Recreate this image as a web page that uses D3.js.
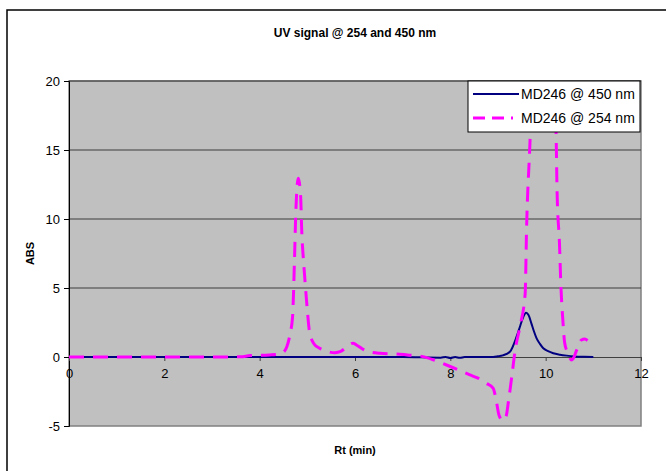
<!DOCTYPE html>
<html>
<head>
<meta charset="utf-8">
<script src="https://cdn.jsdelivr.net/npm/d3@7"></script>
<style>
  html, body { margin: 0; padding: 0; background: #fff; }
  svg { display: block; font-family: "Liberation Sans", Arial, sans-serif; }
</style>
</head>
<body>
<svg id="chart" width="666" height="471"></svg>
<script>
// Retention time (min) and absorbance for the 450 nm trace
const rt450 = [0, 1, 2, 3, 4, 5, 6, 7, 7.8, 7.9, 8.0, 8.1, 8.2, 8.3, 8.5, 8.9, 9.0, 9.1, 9.25, 9.39, 9.47, 9.53, 9.59, 9.64, 9.70, 9.75, 9.81, 9.88, 9.95, 10.05, 10.16, 10.3, 10.44, 10.6, 10.8, 11.0];
const abs450 = [0, 0, 0, 0, 0, 0, 0, 0, -0.05, 0, -0.08, 0, -0.06, 0, 0, 0, 0.05, 0.12, 0.38, 1.47, 2.3, 2.9, 3.2, 3.05, 2.44, 1.9, 1.35, 0.95, 0.63, 0.42, 0.27, 0.17, 0.1, 0.04, 0.01, 0];

// Retention time (min) and absorbance for the 254 nm trace
const rt254 = [0, 1, 2, 3, 3.6, 3.8, 4.0, 4.2, 4.4, 4.5, 4.57, 4.64, 4.69, 4.71, 4.73, 4.76, 4.81, 4.86, 4.88, 4.93, 4.96, 5.0, 5.04, 5.13, 5.25, 5.37, 5.58, 5.7, 5.79, 5.88, 5.96, 6.03, 6.15, 6.28, 6.52, 6.87, 7.1, 7.36, 7.64, 7.92, 8.17, 8.41, 8.62, 8.75, 8.9, 8.96, 9.02, 9.1, 9.17, 9.22, 9.29, 9.36, 9.46, 9.57, 9.60, 9.67, 9.72, 9.85, 10.0, 10.12, 10.18, 10.22, 10.24, 10.29, 10.32, 10.36, 10.40, 10.47, 10.54, 10.58, 10.65, 10.75, 10.82, 10.88];
const abs254 = [0, 0, 0, 0, 0.02, 0.1, 0.12, 0.15, 0.2, 0.35, 0.75, 1.7, 2.9, 4.6, 7.0, 10.65, 12.95, 11.6, 9.4, 6.5, 5.1, 3.4, 1.96, 1.0, 0.65, 0.46, 0.31, 0.4, 0.63, 0.9, 1.0, 0.87, 0.6, 0.39, 0.27, 0.22, 0.15, 0.07, -0.2, -0.58, -0.94, -1.3, -1.6, -1.9, -2.27, -3.1, -4.2, -4.6, -4.3, -3.2, -1.4, 0.5, 2.2, 4.6, 9.4, 15.5, 20.5, 24, 24.5, 22, 20, 16.0, 11.9, 8.2, 5.1, 2.7, 1.0, 0.27, -0.22, -0.1, 0.5, 1.23, 1.3, 1.2];

// Axis ticks and labels
const xTicks = [0, 2, 4, 6, 8, 10, 12];
const yTicks = [-5, 0, 5, 10, 15, 20];
const titleText = "UV signal @ 254 and 450 nm";
const xLabel = "Rt (min)";
const yLabel = "ABS";
const seriesNames = ["MD246 @ 450 nm", "MD246 @ 254 nm"];

const svg = d3.select("#chart");
const plot = { left: 69, right: 641, top: 81, bottom: 426 };

const x = d3.scaleLinear().domain([0, 12]).range([plot.left, plot.right]);
const y = d3.scaleLinear().domain([-5, 20]).range([plot.bottom, plot.top]);

// Plain hyphen-minus labels
const fmt = d => String(d);

// Outer chart frame (runs off the right and bottom edges)
svg.append("rect")
  .attr("x", 7).attr("y", 10)
  .attr("width", 720).attr("height", 520)
  .attr("fill", "#fff").attr("stroke", "#000").attr("stroke-width", 1.5);

// Title
svg.append("text")
  .attr("x", (plot.left + plot.right) / 2).attr("y", 37)
  .attr("text-anchor", "middle")
  .attr("font-size", 12).attr("font-weight", "bold")
  .text(titleText);

// Plot area background
svg.append("rect")
  .attr("x", plot.left).attr("y", plot.top)
  .attr("width", plot.right - plot.left).attr("height", plot.bottom - plot.top)
  .attr("fill", "#c0c0c0").attr("stroke", "#808080").attr("stroke-width", 1.5);

// Horizontal gridlines
svg.append("g")
  .selectAll("line")
  .data(yTicks.filter(d => d > 0))
  .join("line")
  .attr("x1", plot.left).attr("x2", plot.right)
  .attr("y1", d => y(d)).attr("y2", d => y(d))
  .attr("stroke", "#3c3c3c").attr("stroke-width", 1.2);

// Y axis
const yAxis = svg.append("g")
  .attr("transform", `translate(${plot.left},0)`)
  .call(d3.axisLeft(y).tickValues(yTicks).tickSize(5).tickPadding(4).tickFormat(fmt));
yAxis.select(".domain").attr("stroke", "#000");
yAxis.selectAll(".tick line").attr("stroke", "#000");
yAxis.selectAll("text")
  .attr("font-size", 13).attr("font-family", "Liberation Sans, Arial, sans-serif").attr("fill", "#000");

// X axis drawn at zero
const xAxis = svg.append("g")
  .attr("transform", `translate(0,${y(0)})`)
  .call(d3.axisBottom(x).tickValues(xTicks).tickSize(4).tickPadding(8).tickFormat(fmt));
xAxis.select(".domain").attr("stroke", "#404040");
xAxis.selectAll(".tick line").attr("stroke", "#404040");
xAxis.selectAll("text")
  .attr("font-size", 13).attr("font-family", "Liberation Sans, Arial, sans-serif").attr("fill", "#000");

// Axis titles
svg.append("text")
  .attr("x", (plot.left + plot.right) / 2).attr("y", 454)
  .attr("text-anchor", "middle")
  .attr("font-size", 11).attr("font-weight", "bold")
  .text(xLabel);
svg.append("text")
  .attr("transform", `translate(34,${(plot.top + plot.bottom) / 2}) rotate(-90)`)
  .attr("text-anchor", "middle")
  .attr("font-size", 11).attr("font-weight", "bold")
  .text(yLabel);

// Clip traces to the plot area
svg.append("clipPath").attr("id", "plotClip")
  .append("rect")
  .attr("x", plot.left).attr("y", plot.top)
  .attr("width", plot.right - plot.left).attr("height", plot.bottom - plot.top);

const line = d3.line()
  .x(d => x(d[0]))
  .y(d => y(d[1]))
  .curve(d3.curveMonotoneX);

const traces = svg.append("g").attr("clip-path", "url(#plotClip)");

traces.append("path")
  .datum(d3.zip(rt450, abs450))
  .attr("d", line)
  .attr("fill", "none")
  .attr("stroke", "#000080")
  .attr("stroke-width", 2);

traces.append("path")
  .datum(d3.zip(rt254, abs254))
  .attr("d", line)
  .attr("fill", "none")
  .attr("stroke", "#ff00ff")
  .attr("stroke-width", 3)
  .attr("stroke-dasharray", "15,9");

// Legend
const legend = svg.append("g").attr("transform", "translate(468,81)");
legend.append("rect")
  .attr("width", 172).attr("height", 51)
  .attr("fill", "#fff").attr("stroke", "#000").attr("stroke-width", 1);
const legendItems = [
  { name: seriesNames[0], color: "#000080", width: 2, dash: null, cy: 13 },
  { name: seriesNames[1], color: "#ff00ff", width: 3, dash: "12,7", cy: 37 }
];
legendItems.forEach(it => {
  legend.append("line")
    .attr("x1", 5).attr("x2", it.dash ? 45 : 51)
    .attr("y1", it.cy).attr("y2", it.cy)
    .attr("stroke", it.color).attr("stroke-width", it.width)
    .attr("stroke-dasharray", it.dash);
  legend.append("text")
    .attr("x", 53).attr("y", it.cy + 5)
    .attr("font-size", 14)
    .text(it.name);
});
</script>
</body>
</html>
